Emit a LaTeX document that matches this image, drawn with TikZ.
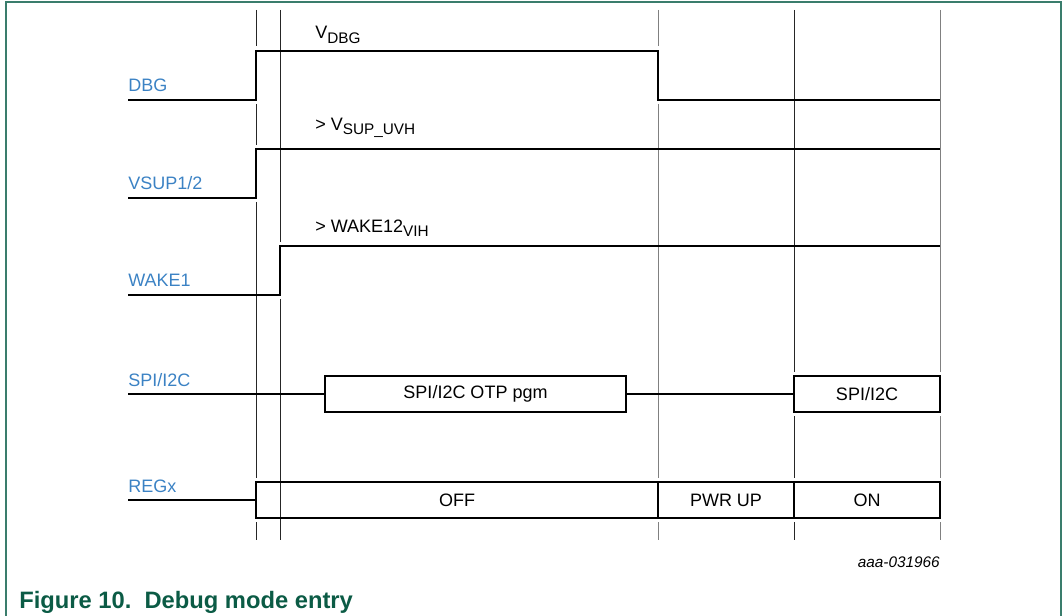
\documentclass[tikz,border=0pt]{standalone}
\usepackage{fontspec}
\setmainfont{Liberation Sans}
\definecolor{siglabel}{HTML}{3B82C4}
\definecolor{capgreen}{HTML}{0B5B45}
\definecolor{framegreen}{HTML}{3A7D6C}
\newcommand{\lowtxt}[1]{\raisebox{-0.45ex}{\fontsize{11.5}{12}\selectfont #1}}

\begin{document}
\begin{tikzpicture}[
  x=0.75pt, y=-0.75pt,
  every node/.style={font=\fontsize{13.5}{16}\selectfont},
  signal/.style={line width=1.7pt, line join=miter},
  guide/.style={line width=0.6pt, draw=black!85},
  guidegray/.style={line width=0.7pt, draw=black!50},
  slabel/.style={anchor=west, text=siglabel, inner sep=0pt},
  vlabel/.style={anchor=west, inner sep=0pt},
  phase/.style={draw, line width=1.7pt, minimum height=27pt, inner sep=0pt}
]
  \useasboundingbox (0,0) rectangle (1063,616);

  % frame
  \draw[framegreen, line width=1pt] (6,616) -- (6,2) -- (1061,2) -- (1061,616);

  % time guides (broken where a signal edge runs on them)
  \foreach \ya/\yb in {10/46, 104/145, 202/478, 522/540}
    \draw[guide] (256,\ya) -- (256,\yb);
  \foreach \ya/\yb in {10/242, 299/540}
    \draw[guide] (280,\ya) -- (280,\yb);
  \foreach \ya/\yb in {10/46, 104/478, 522/540}
    \draw[guidegray] (658,\ya) -- (658,\yb);
  \foreach \ya/\yb in {10/372, 416/478, 522/540}
    \draw[guide] (794,\ya) -- (794,\yb);
  \foreach \ya/\yb in {10/372, 416/478, 522/540}
    \draw[guidegray] (940,\ya) -- (940,\yb);

  % signal names
  \node[slabel] (ldbg)  at (128,85)  {DBG};
  \node[slabel] (lvsup) at (128,183) {VSUP1/2};
  \node[slabel] (lwake) at (128,280) {WAKE1};
  \node[slabel] (lspi)  at (128,380) {SPI/I2C};
  \node[slabel] (lreg)  at (128,486) {REGx};

  % levels
  \node[vlabel] (vdbg)  at (315,35)  {V\lowtxt{DBG}};
  \node[vlabel] (vsup)  at (315,128) {> V\lowtxt{SUP\_UVH}};
  \node[vlabel] (vwake) at (315,228) {> WAKE12\lowtxt{VIH}};

  % waveforms
  \coordinate (dbg0)  at (128,100);
  \coordinate (vsup0) at (128,198);
  \coordinate (wake0) at (128,295);
  \coordinate (spi0)  at (128,394);
  \coordinate (reg0)  at (128,500);

  \draw[signal] (dbg0) -- (256,100) -- (256,51) -- (658,51) -- (658,100) -- (940,100);
  \draw[signal] (vsup0) -- (256,198) -- (256,149) -- (940,149);
  \draw[signal] (wake0) -- (280,295) -- (280,246) -- (940,246);

  % bus phases
  \node[phase, minimum width=225.75pt] (otp)    at (475.5,394) {SPI/I2C OTP pgm};
  \node[phase, minimum width=109.5pt]  (spion)  at (867,394)   {SPI/I2C};
  \node[phase, minimum width=301.5pt]  (off)    at (457,500)   {OFF};
  \node[phase, minimum width=102pt]    (pwrup)  at (726,500)   {PWR UP};
  \node[phase, minimum width=109.5pt]  (on)     at (867,500)   {ON};

  \draw[signal] (spi0) -- (otp.west);
  \draw[signal] (otp.east) -- (spion.west);
  \draw[signal] (reg0) -- (off.west);

  \node[anchor=east, inner sep=0pt, font=\itshape\fontsize{11.5}{13}\selectfont] (docid) at (940,562) {aaa-031966};

  \node[anchor=base west, inner sep=0pt, text=capgreen,
        font=\bfseries\fontsize{17.8}{20}\selectfont] (caption) at (19,608) {Figure 10.\ \ Debug mode entry};
\end{tikzpicture}
\end{document}
